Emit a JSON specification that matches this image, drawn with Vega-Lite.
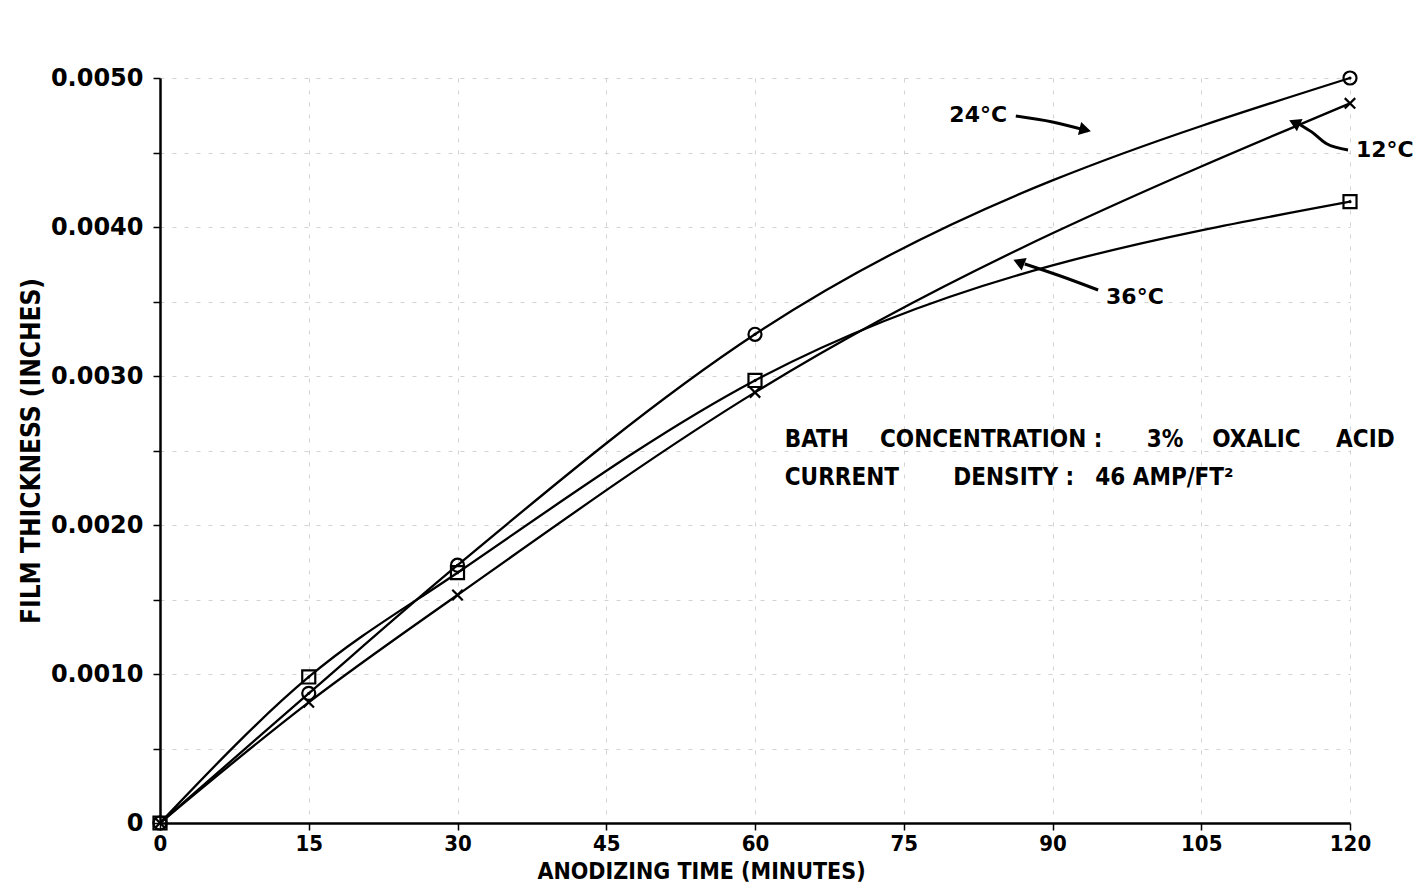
{
  "$schema": "https://vega.github.io/schema/vega-lite/v6.json",
  "width": 1190,
  "height": 745,
  "autosize": "none",
  "padding": {"left": 160, "top": 78, "right": 71, "bottom": 62},
  "background": "white",
  "config": {
    "view": {"stroke": null},
    "axis": {
      "domainColor": "black",
      "domainWidth": 2.5,
      "tickColor": "black",
      "tickWidth": 1.5,
      "tickSize": 7,
      "gridColor": "#d2d2d2",
      "gridDash": [4, 8],
      "gridWidth": 1,
      "labelColor": "black",
      "titleColor": "black"
    }
  },
  "datasets": {
    "curves": [
      {"series": "24°C", "t": 0, "v": 0},
      {"series": "24°C", "t": 15, "v": 0.00087},
      {"series": "24°C", "t": 30, "v": 0.00173},
      {"series": "24°C", "t": 60, "v": 0.00328},
      {"series": "24°C", "t": 120, "v": 0.00500},
      {"series": "12°C", "t": 0, "v": 0},
      {"series": "12°C", "t": 15, "v": 0.00081},
      {"series": "12°C", "t": 30, "v": 0.00153},
      {"series": "12°C", "t": 60, "v": 0.00289},
      {"series": "12°C", "t": 120, "v": 0.00483},
      {"series": "36°C", "t": 0, "v": 0},
      {"series": "36°C", "t": 15, "v": 0.00098},
      {"series": "36°C", "t": 30, "v": 0.00168},
      {"series": "36°C", "t": 60, "v": 0.00297},
      {"series": "36°C", "t": 120, "v": 0.00417}
    ],
    "labels": [
      {"label": "24°C", "t": 79.6, "v": 0.00475},
      {"label": "12°C", "t": 120.6, "v": 0.00452},
      {"label": "36°C", "t": 95.4, "v": 0.00353}
    ],
    "arrows": [
      {"arrow": "a24", "k": 1, "t": 86.3, "v": 0.004745},
      {"arrow": "a24", "k": 2, "t": 90.0, "v": 0.004705},
      {"arrow": "a24", "k": 3, "t": 93.6, "v": 0.004645},
      {"arrow": "a12", "k": 1, "t": 119.8, "v": 0.004517},
      {"arrow": "a12", "k": 2, "t": 117.6, "v": 0.004560},
      {"arrow": "a12", "k": 3, "t": 116.2, "v": 0.004635},
      {"arrow": "a12", "k": 4, "t": 115.0, "v": 0.004685},
      {"arrow": "a36", "k": 1, "t": 94.6, "v": 0.003577},
      {"arrow": "a36", "k": 2, "t": 90.8, "v": 0.003671},
      {"arrow": "a36", "k": 3, "t": 87.2, "v": 0.003752}
    ],
    "heads": [
      {"arrow": "a24", "t": 93.3, "v": 0.004652},
      {"arrow": "a12", "t": 114.4, "v": 0.004700},
      {"arrow": "a36", "t": 86.6, "v": 0.003765}
    ],
    "notes": [
      {"text": "BATH", "t": 63.0, "v": 0.002570},
      {"text": "CONCENTRATION :", "t": 72.6, "v": 0.002570},
      {"text": "3%", "t": 99.5, "v": 0.002570},
      {"text": "OXALIC", "t": 106.1, "v": 0.002570},
      {"text": "ACID", "t": 118.6, "v": 0.002570},
      {"text": "CURRENT", "t": 63.0, "v": 0.002315},
      {"text": "DENSITY :", "t": 80.0, "v": 0.002315},
      {"text": "46 AMP/FT²", "t": 94.3, "v": 0.002315}
    ]
  },
  "layer": [
    {
      "data": {"name": "curves"},
      "mark": {"type": "line", "interpolate": "monotone", "color": "black", "strokeWidth": 2.3},
      "encoding": {
        "x": {
          "field": "t", "type": "quantitative",
          "scale": {"domain": [0, 120], "nice": false, "zero": true},
          "axis": {
            "values": [0, 15, 30, 45, 60, 75, 90, 105, 120],
            "title": "ANODIZING TIME (MINUTES)",
            "labelFont": "DejaVu Sans Condensed",
            "labelFontWeight": "bold",
            "labelFontSize": 22,
            "labelPadding": 3,
            "labelFlush": false,
            "labelOverlap": false,
            "titleFont": "DejaVu Sans Condensed",
            "titleFontWeight": "bold",
            "titleFontSize": 23,
            "titleX": 541,
            "titleY": 37,
            "titleBaseline": "top",
            "titleAlign": "center",
            "grid": true
          }
        },
        "y": {
          "field": "v", "type": "quantitative",
          "scale": {"domain": [0, 0.005], "nice": false},
          "axis": {
            "values": [0, 0.0005, 0.001, 0.0015, 0.002, 0.0025, 0.003, 0.0035, 0.004, 0.0045, 0.005],
            "labelExpr": "datum.value == 0 ? '0' : (round(datum.value * 10000) % 10 == 0 ? format(datum.value, '.4f') : '')",
            "title": "FILM THICKNESS (INCHES)",
            "labelFont": "DejaVu Sans",
            "labelFontWeight": "bold",
            "labelFontSize": 24,
            "labelPadding": 10,
            "labelFlush": false,
            "labelOverlap": false,
            "titleFont": "DejaVu Sans Condensed",
            "titleFontWeight": "bold",
            "titleFontSize": 26,
            "titlePadding": 6,
            "grid": true
          }
        },
        "detail": {"field": "series"}
      }
    },
    {
      "data": {"name": "curves"},
      "mark": {"type": "point", "filled": false, "color": "black", "strokeWidth": 2.2, "size": 170, "opacity": 1},
      "encoding": {
        "x": {"field": "t", "type": "quantitative"},
        "y": {"field": "v", "type": "quantitative"},
        "shape": {
          "field": "series", "type": "nominal",
          "scale": {"domain": ["24°C", "12°C", "36°C"], "range": ["circle", "M-0.8,-0.8L0.8,0.8M-0.8,0.8L0.8,-0.8", "square"]},
          "legend": null
        }
      }
    },
    {
      "data": {"name": "curves"},
      "transform": [{"filter": "datum.series != '12°C' && datum.t > 0"}],
      "mark": {"type": "point", "filled": true, "color": "black", "size": 10, "opacity": 1},
      "encoding": {
        "x": {"field": "t", "type": "quantitative"},
        "y": {"field": "v", "type": "quantitative"}
      }
    },
    {
      "data": {"name": "labels"},
      "mark": {"type": "text", "align": "left", "baseline": "middle", "font": "DejaVu Sans", "fontWeight": "bold", "fontSize": 22, "color": "black"},
      "encoding": {
        "x": {"field": "t", "type": "quantitative"},
        "y": {"field": "v", "type": "quantitative"},
        "text": {"field": "label"}
      }
    },
    {
      "data": {"name": "arrows"},
      "mark": {"type": "line", "interpolate": "monotone", "color": "black", "strokeWidth": 3},
      "encoding": {
        "x": {"field": "t", "type": "quantitative"},
        "y": {"field": "v", "type": "quantitative"},
        "detail": {"field": "arrow"},
        "order": {"field": "k"}
      }
    },
    {
      "data": {"name": "heads"},
      "transform": [{"filter": "datum.arrow == 'a24'"}],
      "mark": {"type": "point", "shape": "triangle-right", "filled": true, "color": "black", "size": 180, "angle": 14, "opacity": 1},
      "encoding": {
        "x": {"field": "t", "type": "quantitative"},
        "y": {"field": "v", "type": "quantitative"}
      }
    },
    {
      "data": {"name": "heads"},
      "transform": [{"filter": "datum.arrow == 'a12'"}],
      "mark": {"type": "point", "shape": "triangle-left", "filled": true, "color": "black", "size": 180, "angle": 25, "opacity": 1},
      "encoding": {
        "x": {"field": "t", "type": "quantitative"},
        "y": {"field": "v", "type": "quantitative"}
      }
    },
    {
      "data": {"name": "heads"},
      "transform": [{"filter": "datum.arrow == 'a36'"}],
      "mark": {"type": "point", "shape": "triangle-left", "filled": true, "color": "black", "size": 180, "angle": 22, "opacity": 1},
      "encoding": {
        "x": {"field": "t", "type": "quantitative"},
        "y": {"field": "v", "type": "quantitative"}
      }
    },
    {
      "data": {"name": "notes"},
      "mark": {"type": "text", "align": "left", "baseline": "middle", "font": "DejaVu Sans Condensed", "fontWeight": "bold", "fontSize": 24, "color": "black"},
      "encoding": {
        "x": {"field": "t", "type": "quantitative"},
        "y": {"field": "v", "type": "quantitative"},
        "text": {"field": "text"}
      }
    }
  ]
}
